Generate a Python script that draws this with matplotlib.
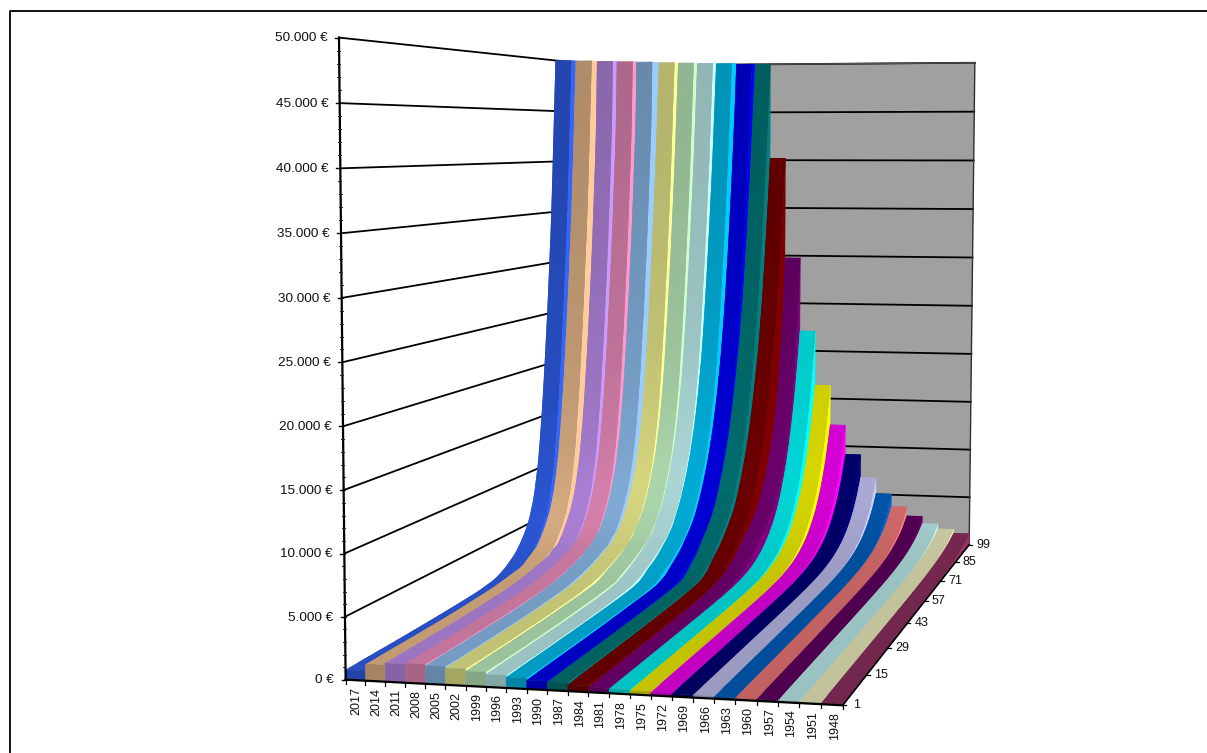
import matplotlib

matplotlib.use("Agg")
import matplotlib.pyplot as plt
import numpy as np
from matplotlib.collections import PolyCollection

plt.rcParams["font.family"] = ["Liberation Sans", "DejaVu Sans"]

years = [2017, 2014, 2011, 2008, 2005, 2002, 1999, 1996, 1993, 1990, 1987, 1984,
         1981, 1978, 1975, 1972, 1969, 1966, 1963, 1960, 1957, 1954, 1951, 1948]
colors = ["#3366ff", "#ffcc99", "#cc99ff", "#ff99cc", "#99ccff", "#ffff99", "#ccffcc", "#ccffff",
          "#00ccff", "#0000ff", "#008080", "#800000", "#800080", "#00ffff", "#ffff00", "#ff00ff",
          "#000080", "#ccccff", "#0066cc", "#ff8080", "#660066", "#ccffff", "#ffffcc", "#993366"]

# ages the table below was read at
ages = [1, 15, 29, 43, 50, 54, 58, 60, 62, 64, 66, 68, 70, 72, 74, 76, 78, 80, 82, 84, 86, 88, 90, 92, 94, 96, 98, 99]

# one row per year, 70000 = somewhere off the top of the chart
values = [
    [800, 850, 950, 1120, 1410, 1950, 2800, 3500, 4350, 5500, 7500, 11000, 17000, 25000, 35000, 50000, 70000, 70000, 70000, 70000, 70000, 70000, 70000, 70000, 70000, 70000, 70000, 70000],
    [1300, 1340, 1430, 1670, 1960, 2120, 2870, 3180, 3960, 4900, 6150, 8290, 11890, 17940, 25850, 35630, 50000, 70000, 70000, 70000, 70000, 70000, 70000, 70000, 70000, 70000, 70000, 70000],
    [1480, 1515, 1595, 1830, 2120, 2410, 2650, 3080, 3280, 4020, 4970, 6170, 7940, 10850, 15600, 22500, 31100, 42600, 70000, 70000, 70000, 70000, 70000, 70000, 70000, 70000, 70000, 70000],
    [1530, 1555, 1635, 1810, 2205, 2490, 2950, 2975, 3475, 3730, 4550, 5600, 6920, 8830, 11860, 16650, 23500, 32000, 43000, 70000, 70000, 70000, 70000, 70000, 70000, 70000, 70000, 70000],
    [1430, 1445, 1510, 1730, 2105, 2405, 2825, 3140, 3285, 3855, 4240, 5160, 6320, 7760, 9820, 12960, 17800, 24500, 32800, 43500, 70000, 70000, 70000, 70000, 70000, 70000, 70000, 70000],
    [1320, 1330, 1385, 1570, 1850, 2200, 2600, 2860, 3150, 3330, 3950, 4390, 5300, 6450, 7870, 9650, 12360, 16240, 22220, 29550, 38270, 50000, 70000, 70000, 70000, 70000, 70000, 70000],
    [1170, 1170, 1220, 1370, 1520, 2000, 2420, 2690, 3010, 3350, 3655, 4375, 5000, 6020, 7290, 8870, 10800, 13650, 17550, 23440, 30550, 38960, 50000, 70000, 70000, 70000, 70000, 70000],
    [990, 990, 1030, 1140, 1320, 1650, 2170, 2450, 2780, 3160, 3570, 4025, 4855, 5690, 6840, 8230, 9980, 12080, 15090, 18980, 24730, 31590, 39660, 50000, 70000, 70000, 70000, 70000],
    [860, 860, 895, 960, 1060, 1260, 1930, 2160, 2480, 2890, 3340, 3830, 4450, 5410, 6470, 7770, 9300, 11240, 13520, 16670, 20510, 26090, 32660, 40370, 50000, 70000, 70000, 70000],
    [700, 700, 725, 820, 860, 960, 1300, 1700, 2070, 2430, 2870, 3470, 4030, 4680, 5570, 6730, 8070, 9630, 11530, 13840, 16700, 20200, 24700, 30500, 37250, 45500, 56000, 70000],
    [620, 620, 635, 690, 745, 800, 970, 1290, 1740, 2160, 2590, 3290, 3890, 4540, 5290, 6320, 7670, 9170, 10900, 13000, 15550, 18600, 22100, 26400, 31900, 38300, 46000, 50000],
    [500, 500, 510, 570, 630, 690, 820, 1000, 1270, 1800, 2250, 2660, 3150, 3750, 4400, 5100, 6000, 7300, 8800, 10400, 12400, 14900, 17800, 21000, 25200, 30500, 36700, 40230],
    [380, 385, 400, 450, 530, 620, 780, 920, 1100, 1350, 1650, 2000, 2400, 2900, 3400, 3700, 4200, 4800, 5500, 6400, 7500, 8900, 10500, 12500, 15200, 19600, 25000, 29780],
    [340, 340, 345, 360, 390, 430, 500, 550, 620, 720, 840, 1000, 1220, 1480, 1800, 2200, 2700, 3300, 4000, 4900, 6000, 7400, 9000, 11000, 13400, 16400, 20000, 22100],
    [290, 290, 290, 300, 320, 350, 400, 440, 490, 560, 650, 770, 920, 1110, 1350, 1650, 2000, 2450, 3000, 3700, 4500, 5500, 6700, 8200, 10000, 12200, 14900, 16410],
    [250, 250, 250, 255, 270, 290, 330, 360, 400, 450, 520, 610, 720, 860, 1030, 1250, 1520, 1850, 2250, 2750, 3400, 4100, 5000, 6100, 7500, 9100, 11100, 12240],
    [210, 210, 210, 215, 225, 245, 275, 300, 330, 370, 420, 490, 570, 680, 810, 970, 1170, 1420, 1720, 2100, 2550, 3100, 3800, 4600, 5600, 6800, 8300, 9160],
    [180, 180, 180, 182, 190, 205, 230, 250, 270, 300, 340, 390, 450, 530, 620, 740, 890, 1070, 1300, 1570, 1900, 2300, 2800, 3400, 4150, 5050, 6150, 6780],
    [160, 160, 160, 162, 172, 185, 205, 220, 240, 260, 290, 330, 380, 440, 510, 600, 710, 850, 1020, 1220, 1470, 1780, 2150, 2600, 3150, 3800, 4600, 5080],
    [140, 140, 140, 142, 150, 160, 178, 190, 205, 225, 250, 280, 320, 365, 420, 490, 580, 680, 810, 960, 1150, 1380, 1650, 1980, 2380, 2850, 3450, 3770],
    [125, 125, 125, 127, 134, 143, 158, 168, 180, 195, 215, 240, 270, 305, 350, 400, 470, 550, 640, 760, 900, 1070, 1280, 1520, 1810, 2170, 2600, 2840],
    [110, 110, 110, 112, 118, 125, 138, 145, 155, 167, 182, 200, 225, 255, 290, 330, 380, 440, 510, 600, 700, 830, 980, 1160, 1370, 1620, 1920, 2090],
    [100, 100, 100, 101, 106, 112, 122, 128, 136, 146, 158, 172, 190, 215, 243, 275, 315, 360, 415, 480, 560, 660, 770, 900, 1060, 1240, 1460, 1580],
    [90, 90, 90, 91, 95, 100, 108, 114, 120, 128, 138, 150, 165, 182, 205, 230, 260, 295, 335, 385, 445, 520, 600, 700, 810, 950, 1100, 1190],
]

y_ticks = [0, 5000, 10000, 15000, 20000, 25000, 30000, 35000, 40000, 45000, 50000]
y_labels = ["0 €", "5.000 €", "10.000 €", "15.000 €", "20.000 €", "25.000 €", "30.000 €",
            "35.000 €", "40.000 €", "45.000 €", "50.000 €"]
depth_ticks = [1, 15, 29, 43, 57, 71, 85, 99]

Y_MAX = 50000
BACK_WALL = "#a0a0a0"
TEXT = "#111111"

# corners of the chart box on the canvas: (across, depth, height) -> pixel
box_corners = [
    ((0, 0, 0), (345.7, 679.3)),
    ((0, 0, 1), (339.3, 37.3)),
    ((1, 0, 0), (842.3, 706.0)),
    ((1, 1, 0), (969.3, 544.0)),
    ((1, 1, 1), (975.0, 63.0)),
    ((0, 1, 0), (604.0, 532.0)),
    ((0, 1, 1), (603.0, 65.5)),
]


def fit_camera(corners):
    rows, rhs = [], []
    for (a, b, c), (x, y) in corners:
        rows.append([a, b, c, 1, 0, 0, 0, 0, -x * a, -x * b, -x * c])
        rows.append([0, 0, 0, 0, a, b, c, 1, -y * a, -y * b, -y * c])
        rhs += [x, y]
    p = np.linalg.lstsq(np.array(rows, dtype=float), np.array(rhs), rcond=None)[0]
    return np.append(p, 1.0).reshape(3, 4)


camera = fit_camera(box_corners)


def project(u, v, w):
    u, v, w = np.broadcast_arrays(u, v, w)
    pts = np.stack([u, v, w, np.ones_like(u, dtype=float)]).astype(float)
    h = camera @ pts.reshape(4, -1)
    return h[0] / h[2], h[1] / h[2]


def depth(age):
    return (np.asarray(age, dtype=float) - 1) / 98


def shade(color, factor):
    return tuple(np.array(matplotlib.colors.to_rgb(color)) * factor)


def cut_at_top(a, y):
    over = np.nonzero(y >= Y_MAX)[0]
    if len(over) == 0:
        return a, y
    k = over[0]
    if k == len(a) - 1 or y[k] == Y_MAX:
        return a[: k + 1], np.minimum(y[: k + 1], Y_MAX)
    cross = a[k - 1] + (a[k] - a[k - 1]) * (Y_MAX - y[k - 1]) / (y[k] - y[k - 1])
    return np.append(a[:k], cross), np.append(y[:k], Y_MAX)


def knot_shades(a, y):
    # the top gets lighter on the bend and darker where it stands nearly upright
    angle = np.degrees(np.arctan2(np.diff(y) / Y_MAX, np.diff(a) / 98))
    f = np.interp(angle, [0, 30, 60, 75, 81, 84, 87], [0.76, 0.81, 0.84, 0.80, 0.76, 0.72, 0.67])
    return np.r_[f[0], (f[:-1] + f[1:]) / 2, f[-1]]


def poly(ax, u, v, w, z, color):
    x, y = project(u, v, w)
    ax.fill(x, y, facecolor=color, edgecolor=color, linewidth=0.3, zorder=z)


def draw_walls(ax):
    poly(ax, [0, 1, 1, 0], [1, 1, 1, 1], [0, 0, 1, 1], 1, BACK_WALL)
    poly(ax, [0, 1, 1, 0], [0, 0, 1, 1], [0, 0, 0, 0], 1, BACK_WALL)
    for tick in y_ticks:
        x, y = project([0, 0, 1], [0, 1, 1], tick / Y_MAX)
        ax.plot(x, y, color="black", lw=1.3, zorder=2)
    x, y = project([0, 1], [1, 1], [1, 1])
    ax.plot(x, y, color="#505050", lw=1.0, zorder=3)
    x, y = project([1, 1], [1, 1], [0, 1])
    ax.plot(x, y, color="#303030", lw=1.0, zorder=3)


def draw_series(ax, i):
    u0, u1 = i / len(years), (i + 1) / len(years)
    a, y = cut_at_top(np.array(ages, dtype=float), np.array(values[i], dtype=float))
    v, w = depth(a), y / Y_MAX
    z = 10 + i * 3
    # side facing the camera, the next series hides most of it. A series cut off
    # by the top of the chart keeps its side up to the back wall
    side_v = np.r_[v, 1.0]
    side_w = np.r_[w, w[-1]]
    poly(ax, np.full(2 * len(side_v), u1), np.r_[side_v, side_v[::-1]], np.r_[side_w, np.zeros(len(side_v))], z, colors[i])
    f = knot_shades(a, y)
    # colour steps along the top; each step runs under the next one so no seams show
    steps = np.arange(0, len(v) - 1 + 1e-9, 0.25)
    sv = np.interp(steps, np.arange(len(v)), v)
    sw = np.interp(steps, np.arange(len(v)), w)
    sf = np.interp(steps, np.arange(len(v)), f)
    verts, fills = [], []
    for j in range(len(steps) - 1):
        end = min(j + 2, len(steps) - 1)
        px, py = project([u0, u1, u1, u0], [sv[j], sv[j], sv[end], sv[end]], [sw[j], sw[j], sw[end], sw[end]])
        verts.append(np.c_[px, py])
        fills.append(shade(colors[i], (sf[j] + sf[j + 1]) / 2))
    ax.add_collection(PolyCollection(verts, facecolors=fills, edgecolors="none", linewidths=0, zorder=z + 1))
    poly(ax, [u0, u1, u1, u0], 0, [0, 0, w[0], w[0]], z + 2, shade(colors[i], 0.65))


def draw_axes(ax):
    n = len(years)
    x, y = project([0, 0], 0, [0, 1])
    ax.plot(x, y, color="black", lw=1.6, zorder=100)
    x, y = project([0, 1], 0, 0)
    ax.plot(x, y, color="black", lw=1.6, zorder=100)
    x, y = project(1, [0, 1], 0)
    ax.plot(x, y, color="black", lw=1.2, zorder=100)
    for minor in range(0, Y_MAX + 1, 1000):
        x, y = project(0, 0, minor / Y_MAX)
        ax.plot([x[0] - 2, x[0] + 1], [y[0], y[0]], color="#202020", lw=0.7, zorder=100)
    for tick, label in zip(y_ticks, y_labels):
        x, y = project(0, 0, tick / Y_MAX)
        ax.plot([x[0] - 4, x[0]], [y[0], y[0]], color="black", lw=1.0, zorder=100)
        ax.text(x[0] - 11.5, y[0] + 0.8, label, ha="right", va="center", fontsize=9.7, color=TEXT)
    for i in range(n + 1):
        x, y = project(i / n, 0, 0)
        ax.plot([x[0], x[0]], [y[0], y[0] + 4], color="black", lw=0.9, zorder=100)
    for i, year in enumerate(years):
        x, y = project((i + 0.5) / n, 0, 0)
        ax.text(x[0] + 0.5 + 2.5 * i / (n - 1), y[0] + 7, str(year), rotation=90, ha="center", va="top", fontsize=9, color=TEXT)
    for age in depth_ticks:
        x, y = project(1, depth(age), 0)
        ax.plot([x[0], x[0] + 3], [y[0], y[0]], color="black", lw=0.9, zorder=100)
        ax.text(x[0] + 14, y[0], str(age), ha="center", va="center", fontsize=9, color=TEXT)


def main():
    fig = plt.figure(figsize=(12.07, 7.53), dpi=100)
    ax = fig.add_axes([0, 0, 1, 1])
    ax.set_xlim(0, 1207)
    ax.set_ylim(753, 0)
    ax.axis("off")
    ax.plot([9.5, 9.5, 1207], [753, 11.2, 11.2], color="black", lw=1.3)
    draw_walls(ax)
    for i in range(len(years)):
        draw_series(ax, i)
    draw_axes(ax)
    fig.savefig("out.png", dpi=100)


if __name__ == "__main__":
    main()
